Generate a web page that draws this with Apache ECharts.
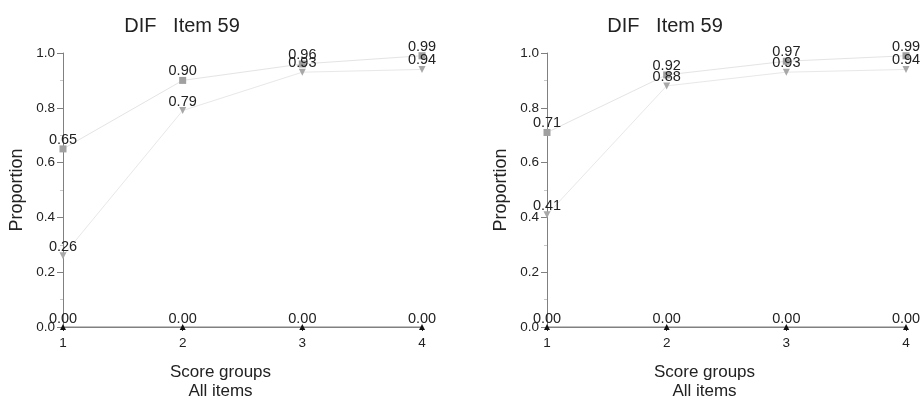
<!DOCTYPE html>
<html>
<head>
<meta charset="utf-8">
<script src="https://cdn.jsdelivr.net/npm/echarts@6/dist/echarts.min.js"></script>
<style>html,body{margin:0;padding:0;background:#fff;}#c{width:922px;height:398px;}</style>
</head>
<body>
<div id="c"></div>
<script>
var scoreGroups = [1, 2, 3, 4];
var leftGroupA = [0.65, 0.90, 0.96, 0.99];
var leftGroupB = [0.26, 0.79, 0.93, 0.94];
var leftGroupC = [0.00, 0.00, 0.00, 0.00];
var rightGroupA = [0.71, 0.92, 0.97, 0.99];
var rightGroupB = [0.41, 0.88, 0.93, 0.94];
var rightGroupC = [0.00, 0.00, 0.00, 0.00];
var titleText = 'DIF   Item 59';
var yName = 'Proportion';
var xName = 'Score groups\nAll items';

var FONT = 'Liberation Sans, Arial, sans-serif';
function pairs(vals){ return scoreGroups.map(function(x,i){ return [x, vals[i]]; }); }
function xAxis(gi){
  return {
    type:'value', gridIndex:gi, min:1, max:4, interval:1,
    name:xName, nameLocation:'middle', nameGap:36,
    nameTextStyle:{fontFamily:FONT, fontSize:17, color:'#222', lineHeight:19, padding:[0,44,0,0]},
    axisLine:{lineStyle:{color:'#808080', width:1}},
    axisTick:{show:true, length:4, lineStyle:{color:'#333'}},
    axisLabel:{fontFamily:FONT, fontSize:13.5, color:'#222', margin:9},
    splitLine:{show:false}
  };
}
function yAxis(gi){
  return {
    type:'value', gridIndex:gi, min:0, max:1, interval:0.2,
    name:yName, nameLocation:'middle', nameGap:37,
    nameTextStyle:{fontFamily:FONT, fontSize:18, color:'#222'},
    axisLine:{show:true, lineStyle:{color:'#808080', width:1}},
    axisTick:{show:true, length:6, lineStyle:{color:'#808080'}},
    minorTick:{show:true, splitNumber:2, length:3, lineStyle:{color:'#c8c8c8'}},
    axisLabel:{fontFamily:FONT, fontSize:13.5, color:'#222', margin:8, formatter:function(v){return v.toFixed(1);}},
    splitLine:{show:false}
  };
}
function series(gi, vals, symbol, rotate, color, size, lineColor){
  return {
    type:'line', xAxisIndex:gi, yAxisIndex:gi, data:pairs(vals),
    symbol:symbol, symbolRotate:rotate, symbolSize:size,
    itemStyle:{color:color},
    lineStyle:{color:lineColor, width:1},
    label:{show:true, position:'top', distance:-2, fontFamily:FONT, fontSize:14.5, color:'#222',
      formatter:function(p){return p.value[1].toFixed(2);}},
    z: 3, silent:true, animation:false
  };
}
var chart = echarts.init(document.getElementById('c'), null, {renderer:'canvas'});
chart.setOption({
  backgroundColor:'#fff',
  animation:false,
  title:[
    {text:titleText, left:177, top:11, textAlign:'center', textStyle:{fontFamily:FONT, fontSize:20, fontWeight:'normal', color:'#222'}},
    {text:titleText, left:660, top:11, textAlign:'center', textStyle:{fontFamily:FONT, fontSize:20, fontWeight:'normal', color:'#222'}}
  ],
  grid:[
    {left:63, right:500, top:53, bottom:71, containLabel:false, outerBoundsMode:'none'},
    {left:547, right:16, top:53, bottom:71, containLabel:false, outerBoundsMode:'none'}
  ],
  xAxis:[xAxis(0), xAxis(1)],
  yAxis:[yAxis(0), yAxis(1)],
  series:[
    series(0, leftGroupA, 'rect', 0, '#a0a0a0', 7, '#e4e4e4'),
    series(0, leftGroupB, 'triangle', 180, '#a8a8a8', 7, '#e8e8e8'),
    series(0, leftGroupC, 'triangle', 0, '#111', 6, '#808080'),
    series(1, rightGroupA, 'rect', 0, '#a0a0a0', 7, '#e4e4e4'),
    series(1, rightGroupB, 'triangle', 180, '#a8a8a8', 7, '#e8e8e8'),
    series(1, rightGroupC, 'triangle', 0, '#111', 6, '#808080')
  ]
});
</script>
</body>
</html>
